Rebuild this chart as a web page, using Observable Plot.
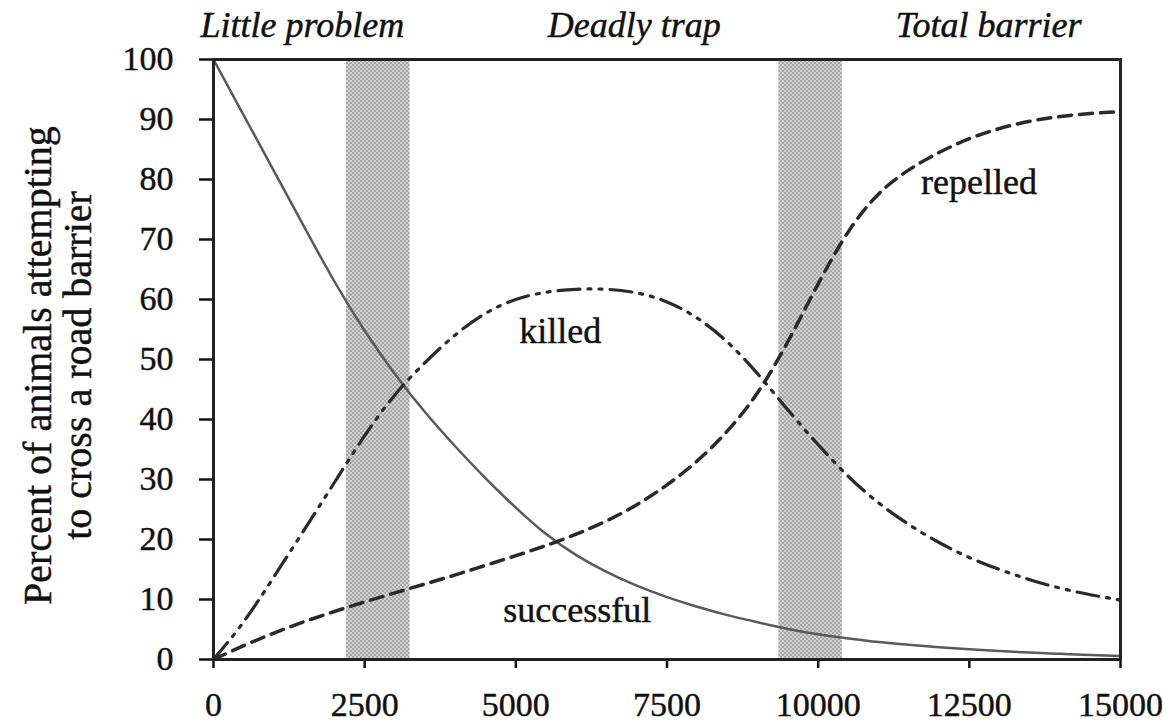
<!DOCTYPE html>
<html>
<head>
<meta charset="utf-8">
<script src="https://cdn.jsdelivr.net/npm/d3@7"></script>
<script src="https://cdn.jsdelivr.net/npm/@observablehq/plot@0.6"></script>
<style>
  html, body { margin: 0; padding: 0; background: #fff; }
  #chart svg { display: block; }
  #chart svg text { stroke: #111; stroke-width: 0.45px; }
</style>
</head>
<body>
<div id="chart"></div>
<script>
// Traffic volume (x) sampled every 500
const traffic = [0,500,1000,1500,2000,2500,3000,3500,4000,4500,5000,5500,6000,6500,7000,7500,
  8000,8500,9000,9500,10000,10500,11000,11500,12000,12500,13000,13500,14000,14500,15000];
// Percent of animals
const successful = [100,90.7,81.4,72.1,63,54.8,47.6,41.2,35.5,30.2,25.3,20.9,17.4,14.6,12.3,10.4,
  8.8,7.4,6.2,5.1,4.2,3.5,2.9,2.45,2.05,1.7,1.4,1.15,0.95,0.75,0.6];
const killed = [0,6.3,13.8,21.6,29.5,37.3,44.1,49.5,54.1,57.7,60.0,61.2,61.7,61.7,61.1,59.6,
  56.9,52.9,47.6,41.6,35.8,30.5,26.1,22.5,19.5,17.0,15.0,13.3,11.9,10.8,9.9];
const repelled = [0,2.3,4.4,6.3,8.0,9.6,11.1,12.6,14.1,15.7,17.3,19.0,20.9,23.1,25.8,29.1,
  33.1,38.1,44.5,53,62.6,71.3,77.6,81.6,84.5,86.8,88.5,89.7,90.5,91,91.3];

// Threshold bands (shaded)
const bandStart = [2200, 9350];
const bandEnd = [3250, 10400];

// Zone titles above the plot
const zoneNames = ["Little problem", "Deadly trap", "Total barrier"];
const zoneX = [1470, 6960, 12820];

// Curve labels
const curveLabels = ["killed", "repelled", "successful"];
const curveLabelX = [5736, 12659, 6017];
const curveLabelY = [54.7, 79.5, 8.2];

const xTicks = [0, 2500, 5000, 7500, 10000, 12500, 15000];
const yTicks = [0, 10, 20, 30, 40, 50, 60, 70, 80, 90, 100];
const yTitle = "Percent of animals attempting\nto cross a road barrier";

const rows = [];
traffic.forEach((t, i) => {
  rows.push({series: "successful", x: t, y: successful[i]});
  rows.push({series: "killed", x: t, y: killed[i]});
  rows.push({series: "repelled", x: t, y: repelled[i]});
});
const bands = bandStart.map((s, i) => ({x1: s, x2: bandEnd[i]}));
const zones = zoneNames.map((n, i) => ({name: n, x: zoneX[i]}));
const lbls = curveLabels.map((n, i) => ({name: n, x: curveLabelX[i], y: curveLabelY[i]}));

const font = "'Liberation Serif', 'Times New Roman', serif";

const chart = Plot.plot({
  width: 1163,
  height: 726,
  marginLeft: 213,
  marginRight: 43,
  marginTop: 59,
  marginBottom: 67,
  style: {fontFamily: font, color: "#111", background: "#fff", overflow: "visible"},
  x: {domain: [0, 15000]},
  y: {domain: [0, 100]},
  marks: [
    Plot.rect(bands, {x1: "x1", x2: "x2", fill: "url(#checker)"}),
    Plot.line(rows.filter(d => d.series === "successful"), {
      x: "x", y: "y", stroke: "#5a5a5a", strokeWidth: 2.5, curve: "natural"}),
    Plot.line(rows.filter(d => d.series === "killed"), {
      x: "x", y: "y", stroke: "#2a2a2a", strokeWidth: 3.2, curve: "natural",
      strokeDasharray: "22,8,3,8,3,8"}),
    Plot.line(rows.filter(d => d.series === "repelled"), {
      x: "x", y: "y", stroke: "#2a2a2a", strokeWidth: 3.5, curve: "natural",
      strokeDasharray: "13,8"}),
    Plot.axisX({ticks: xTicks, tickSize: 9, tickPadding: 23, fontSize: 34,
      strokeWidth: 2.5, tickFormat: d3.format("d"), label: null}),
    Plot.axisY({ticks: yTicks, tickSize: 14, tickPadding: 26, fontSize: 34,
      strokeWidth: 2.5, tickFormat: d3.format("d"), label: null}),
    Plot.frame({stroke: "#222", strokeWidth: 3}),
    Plot.text(zones, {x: "x", y: 105.6, text: "name", fontSize: 36,
      fontStyle: "italic", fill: "#111", clip: false}),
    Plot.text(lbls, {x: "x", y: "y", text: "name", fontSize: 36, fill: "#111"}),
    Plot.text([yTitle], {text: d => d, frameAnchor: "left", textAnchor: "middle",
      dx: -155, dy: 6, rotate: -90, fontSize: 40, lineHeight: 1.0, fill: "#111"})
  ]
});

// checkered fill pattern for the shaded bands
const ns = "http://www.w3.org/2000/svg";
const defs = document.createElementNS(ns, "defs");
const pat = document.createElementNS(ns, "pattern");
pat.setAttribute("id", "checker");
pat.setAttribute("width", "4");
pat.setAttribute("height", "4");
pat.setAttribute("patternUnits", "userSpaceOnUse");
[["0","0","4","4","#d2d2d2"],["0","0","2","2","#a6a6a6"],["2","2","2","2","#a6a6a6"]].forEach(r => {
  const e = document.createElementNS(ns, "rect");
  e.setAttribute("x", r[0]); e.setAttribute("y", r[1]);
  e.setAttribute("width", r[2]); e.setAttribute("height", r[3]);
  e.setAttribute("fill", r[4]);
  pat.appendChild(e);
});
defs.appendChild(pat);
chart.insertBefore(defs, chart.firstChild);

document.getElementById("chart").appendChild(chart);
</script>
</body>
</html>
